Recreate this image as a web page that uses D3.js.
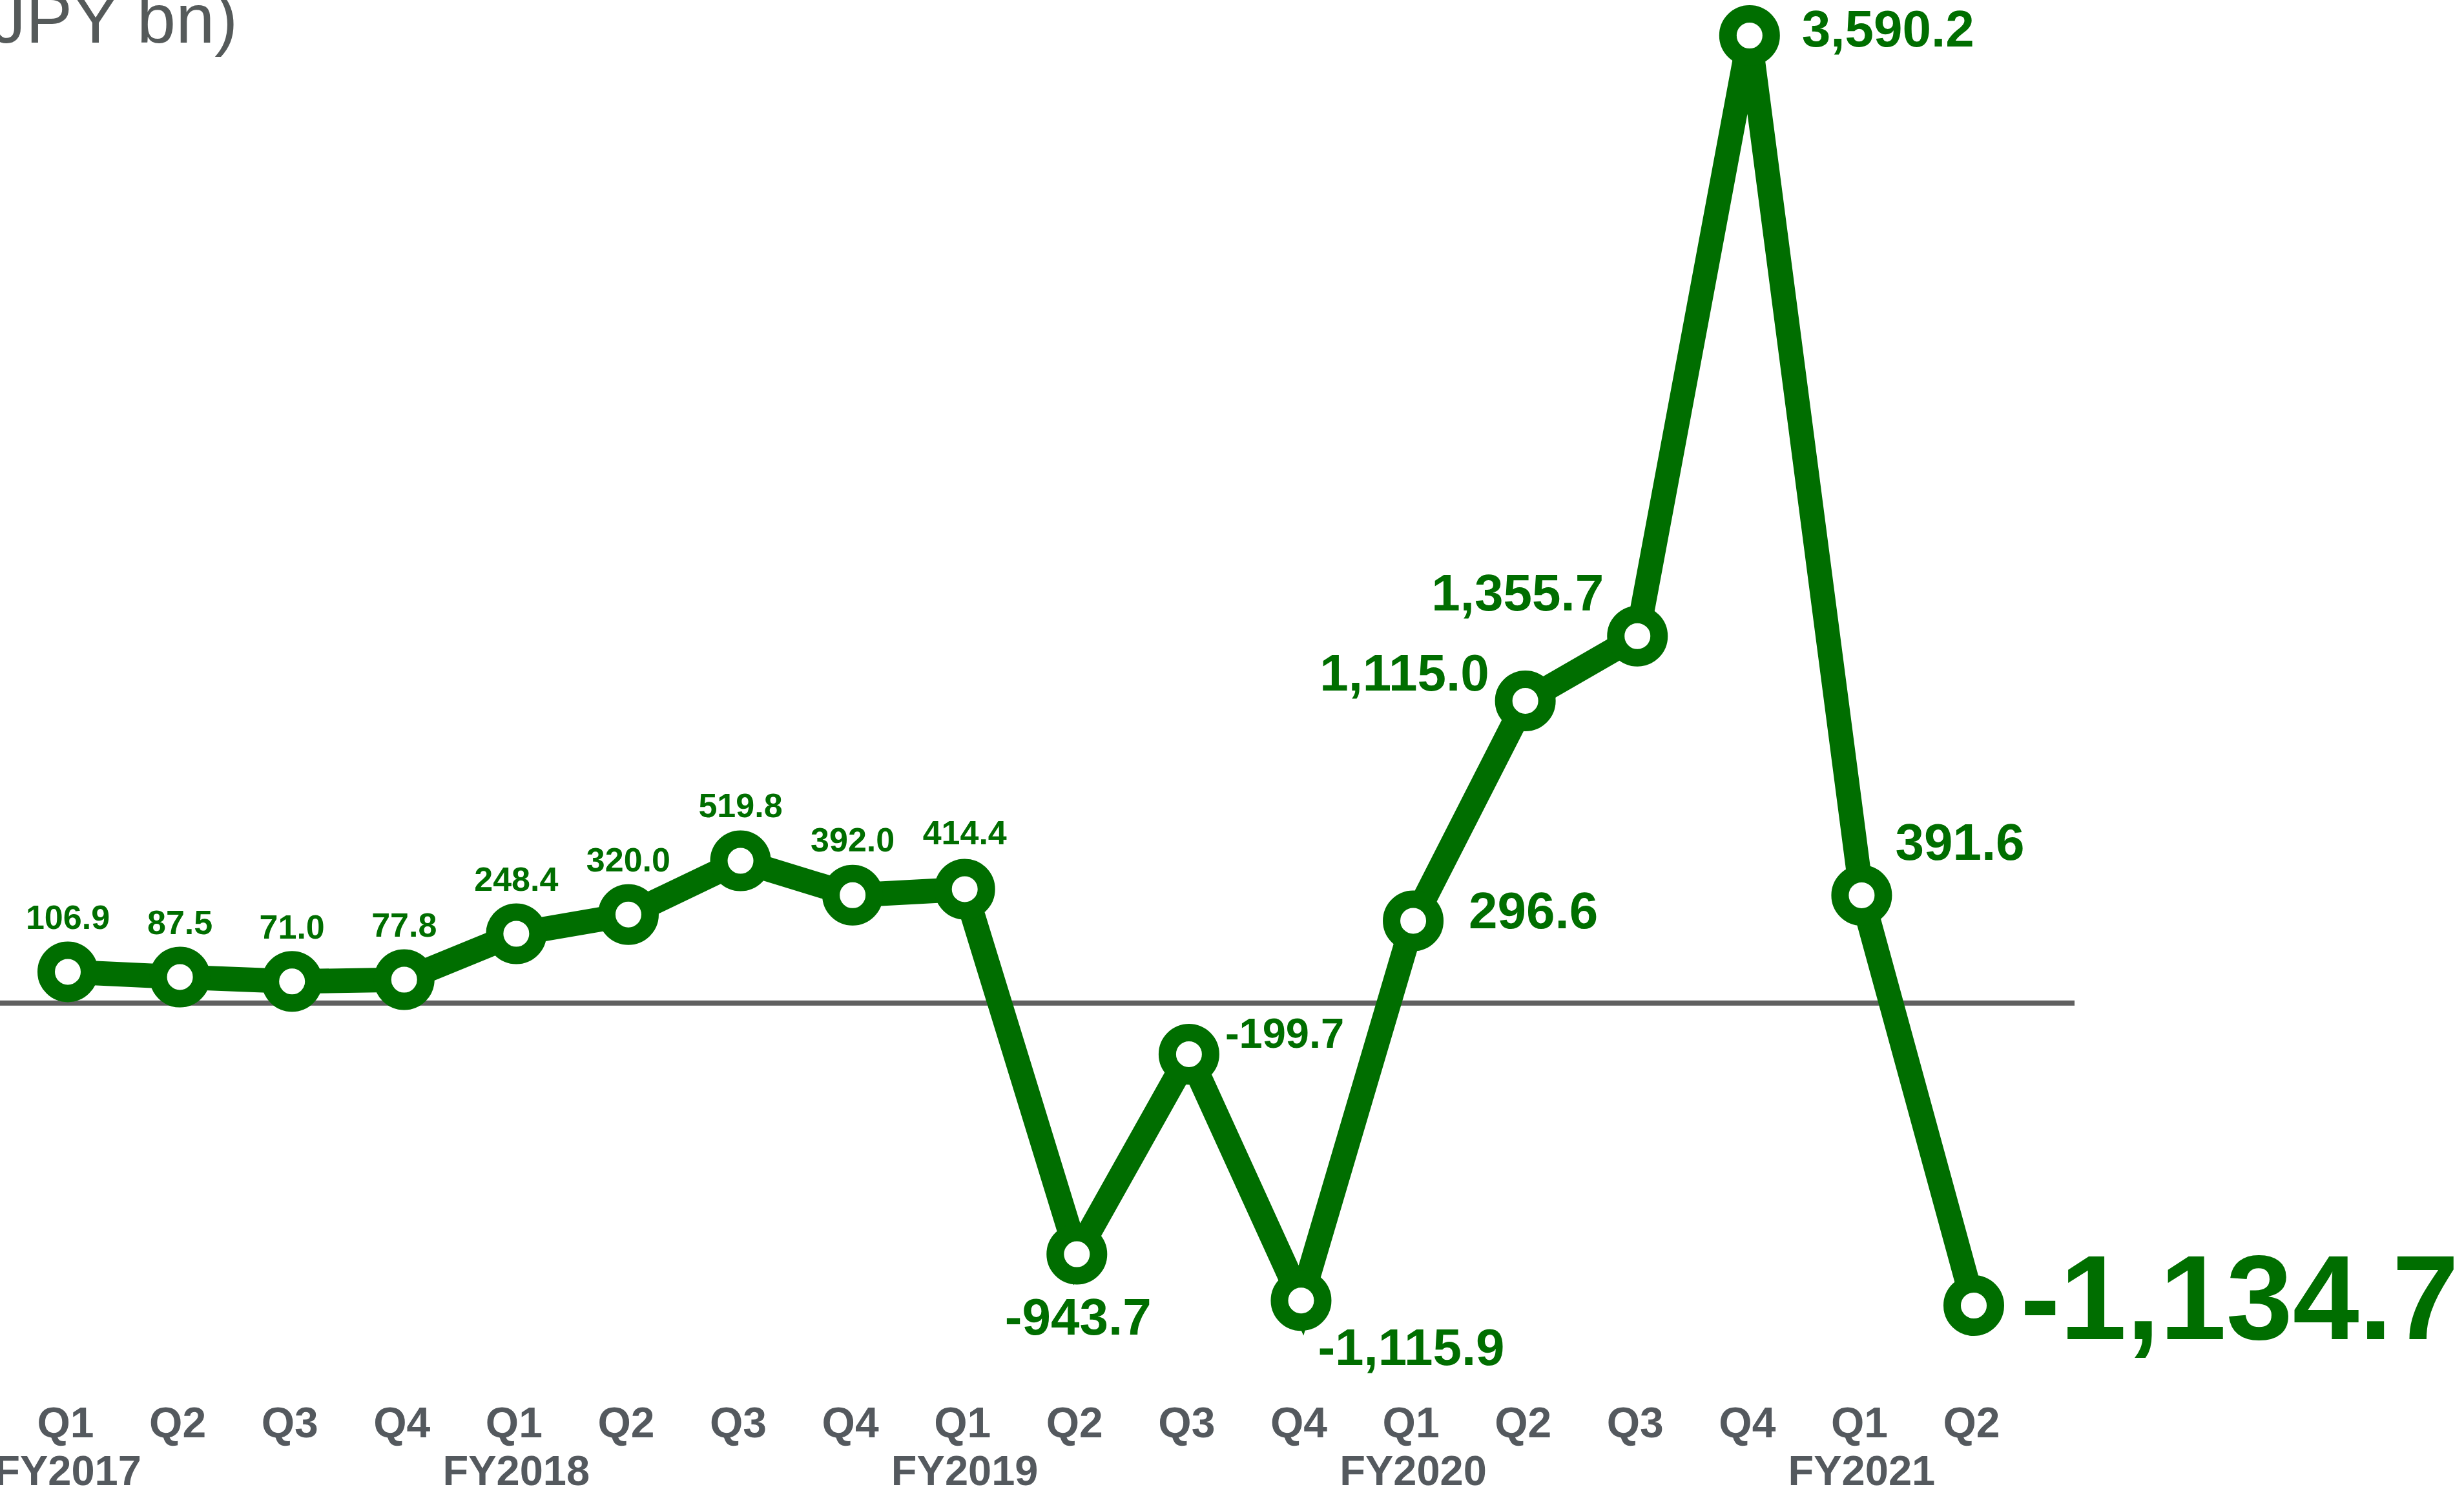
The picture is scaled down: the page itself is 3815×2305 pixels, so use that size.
<!DOCTYPE html>
<html>
<head>
<meta charset="utf-8">
<script src="https://cdn.jsdelivr.net/npm/d3@7"></script>
<style>
  html, body { margin: 0; padding: 0; background: #ffffff; overflow: hidden; }
  svg { display: block; }
  text { font-family: "Liberation Sans", Arial, Helvetica, sans-serif; }
</style>
</head>
<body>
<svg id="chart" width="3815" height="2305"></svg>
<script>
// ---- data ----
const quarters = ["Q1","Q2","Q3","Q4","Q1","Q2","Q3","Q4","Q1","Q2","Q3","Q4","Q1","Q2","Q3","Q4","Q1","Q2"];
const fiscalYears = ["FY2017","FY2017","FY2017","FY2017","FY2018","FY2018","FY2018","FY2018","FY2019","FY2019","FY2019","FY2019","FY2020","FY2020","FY2020","FY2020","FY2021","FY2021"];
const values = [106.9, 87.5, 71.0, 77.8, 248.4, 320.0, 519.8, 392.0, 414.4, -943.7, -199.7, -1115.9, 296.6, 1115.0, 1355.7, 3590.2, 391.6, -1134.7];
const unitLabel = "(JPY bn)";

// ---- label layout (offsets from each point, size, anchor) ----
const labelLayout = [
  {dx:0, dy:-66, size:52, anchor:"middle"},
  {dx:0, dy:-66, size:52, anchor:"middle"},
  {dx:0, dy:-66, size:52, anchor:"middle"},
  {dx:0, dy:-66, size:52, anchor:"middle"},
  {dx:0, dy:-67, size:52, anchor:"middle"},
  {dx:0, dy:-67, size:52, anchor:"middle"},
  {dx:0, dy:-68, size:52, anchor:"middle"},
  {dx:0, dy:-68, size:52, anchor:"middle"},
  {dx:0, dy:-69, size:52, anchor:"middle"},
  {dx:2, dy:124, size:80, anchor:"middle"},
  {dx:56, dy:-10, size:65, anchor:"start"},
  {dx:26, dy:100, size:80, anchor:"start"},
  {dx:86, dy:12, size:80, anchor:"start"},
  {dx:-56, dy:-16, size:80, anchor:"end"},
  {dx:-52, dy:-40, size:80, anchor:"end"},
  {dx:81, dy:17, size:80, anchor:"start"},
  {dx:52, dy:-55, size:80, anchor:"start"},
  {dx:72, dy:52, size:185, anchor:"start"}
];

const GREEN = "#006e00";
const GREY_TEXT = "#54595e";
const locale = d3.formatLocale({decimal: ".", thousands: ",", grouping: [3], currency: ["", ""], minus: "-"});
const fmt = locale.format(",.1f");

const svg = d3.select("#chart");
const keys = values.map((v, i) => fiscalYears[i] + " " + quarters[i]);

const x = d3.scalePoint().domain(keys).range([105, 3056]).padding(0);
const y = d3.scaleLinear().domain(d3.extent(values)).range([2021, 55]);

// zero line
svg.append("line")
  .attr("x1", 0).attr("x2", 3212)
  .attr("y1", y(0) + 4).attr("y2", y(0) + 4)
  .attr("stroke", "#606060").attr("stroke-width", 8);

// unit label
svg.append("text")
  .attr("x", -50).attr("y", 66)
  .attr("font-size", 108)
  .attr("fill", "#555a5a")
  .text(unitLabel);

// quarter axis
const axis = d3.axisBottom(x)
  .tickSize(0)
  .tickPadding(0)
  .tickFormat((d, i) => quarters[i]);
const gAxis = svg.append("g")
  .attr("transform", "translate(-4, 0)")
  .call(axis);
gAxis.select(".domain").remove();
gAxis.selectAll("text")
  .attr("y", 2225).attr("dy", null)
  .attr("font-size", 66)
  .attr("font-weight", "bold")
  .attr("font-family", "'Liberation Sans', Arial, sans-serif")
  .attr("fill", GREY_TEXT);

// fiscal year labels (under first quarter of each year)
const fyStarts = keys.filter((k, i) => i === 0 || fiscalYears[i] !== fiscalYears[i - 1]);
svg.append("g").selectAll("text")
  .data(fyStarts)
  .join("text")
  .attr("x", d => x(d))
  .attr("y", 2299)
  .attr("text-anchor", "middle")
  .attr("font-size", 65)
  .attr("font-weight", "bold")
  .attr("fill", GREY_TEXT)
  .text(d => d.split(" ")[0]);

// line
const line = d3.line()
  .x((d, i) => x(keys[i]))
  .y(d => y(d));
svg.append("path")
  .datum(values)
  .attr("d", line)
  .attr("fill", "none")
  .attr("stroke", GREEN)
  .attr("stroke-width", 38)
  .attr("stroke-linejoin", "miter");

// markers
svg.append("g").selectAll("circle")
  .data(values)
  .join("circle")
  .attr("cx", (d, i) => x(keys[i]))
  .attr("cy", d => y(d))
  .attr("r", 33.5)
  .attr("fill", "#ffffff")
  .attr("stroke", GREEN)
  .attr("stroke-width", 27);

// value labels
svg.append("g").selectAll("text")
  .data(values)
  .join("text")
  .attr("x", (d, i) => x(keys[i]) + labelLayout[i].dx)
  .attr("y", (d, i) => y(d) + labelLayout[i].dy)
  .attr("text-anchor", (d, i) => labelLayout[i].anchor)
  .attr("font-size", (d, i) => labelLayout[i].size)
  .attr("font-weight", "bold")
  .attr("fill", GREEN)
  .text(d => fmt(d));
</script>
</body>
</html>
